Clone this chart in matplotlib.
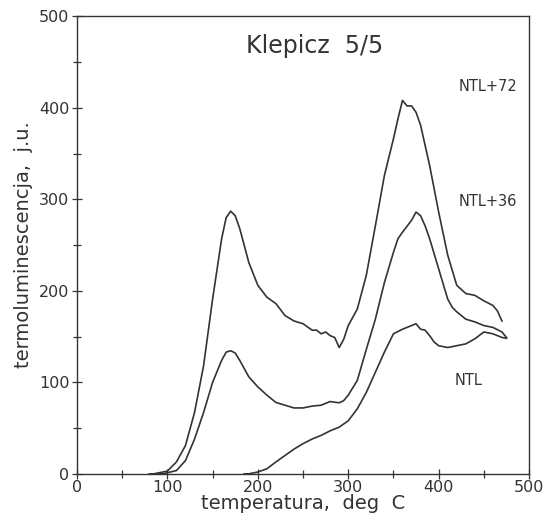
import numpy as np
import matplotlib.pyplot as plt

# temperatura (deg C) i odczyty TL dla trzech krzywych
t72 = [80, 85, 100, 110, 120, 130, 140, 150, 160, 165, 170, 175, 180, 190, 200, 210, 220,
       230, 240, 250, 260, 265, 270, 275, 280, 285, 290, 295, 300, 310, 320, 330, 340,
       350, 355, 360, 365, 370, 375, 380, 390, 400, 410, 420, 430, 440, 450, 460, 465, 470]
ntl72 = [0, 0, 3, 13, 31, 67, 118, 191, 257, 280, 287, 282, 268, 231, 206, 193, 186,
         173, 167, 164, 157, 157, 153, 155, 151, 149, 138, 147, 162, 180, 217, 271, 326,
         366, 388, 408, 402, 402, 395, 381, 337, 286, 239, 206, 197, 195, 189, 184, 178, 167]

t36 = [90, 95, 110, 120, 130, 140, 150, 160, 165, 170, 175, 180, 190, 200, 210, 220,
       230, 240, 250, 260, 270, 280, 290, 295, 300, 310, 320, 330, 340, 350, 355, 360,
       370, 375, 380, 385, 390, 400, 410, 415, 420, 430, 440, 450, 460, 470, 475]
ntl36 = [0, 0, 3.6, 14.5, 38, 67, 100, 124, 133, 134.5, 132, 124, 106, 95, 86, 78,
         75, 72, 72, 74, 75, 79, 77.6, 80, 86, 102, 136, 169, 209, 242, 257, 264,
         277, 286, 282, 271, 257, 224, 191, 182, 177, 169, 166, 162, 160, 155, 149]

t0 = [185, 190, 200, 210, 220, 230, 240, 250, 260, 270, 280, 290, 300, 310, 320, 330,
      340, 350, 360, 370, 375, 380, 385, 390, 395, 400, 410, 420, 430, 440, 450, 460, 470, 475]
ntl = [0, 0, 2, 5.5, 13, 20, 27, 33, 38, 42, 47, 51, 58, 71, 89, 111,
       133, 153, 158, 162, 164, 158, 157, 151, 144, 140, 138, 140, 142, 147.5, 155, 153, 149, 148]

ink = '#333333'
plt.rcParams['font.family'] = 'DejaVu Sans'

fig = plt.figure(figsize=(5.46, 5.23), dpi=100)
ax = fig.add_axes([0.141, 0.094, 0.828, 0.875])

ax.plot(t72, ntl72, color=ink, lw=1.2)
ax.plot(t36, ntl36, color=ink, lw=1.2)
ax.plot(t0, ntl, color=ink, lw=1.2)

ax.set_xlim(0, 500)
ax.set_ylim(0, 500)
ax.set_xticks([0, 100, 200, 300, 400, 500])
ax.set_yticks([0, 100, 200, 300, 400, 500])
ax.set_xticks(np.arange(50, 500, 100), minor=True)
ax.set_yticks(np.arange(50, 500, 100), minor=True)
ax.tick_params(direction='inout', length=7, width=0.9, colors=ink, labelsize=11.5)
ax.tick_params(which='minor', direction='inout', length=6, width=0.9, colors=ink)
ax.tick_params(axis='x', pad=1)
ax.tick_params(axis='y', pad=2)
for s in ax.spines.values():
    s.set_color(ink)
    s.set_linewidth(1.0)

ax.set_xlabel('temperatura,  deg  C', fontsize=14, color=ink, labelpad=-1)
ax.set_ylabel('termoluminescencja,  j.u.', fontsize=14, color=ink, labelpad=4)

ax.text(263, 468, 'Klepicz  5/5', fontsize=17, color=ink, ha='center', va='center')
ax.text(455, 423, 'NTL+72', fontsize=10.5, color=ink, ha='center', va='center')
ax.text(454, 298, 'NTL+36', fontsize=10.5, color=ink, ha='center', va='center')
ax.text(433, 102, 'NTL', fontsize=10.5, color=ink, ha='center', va='center')

fig.savefig('out.png', dpi=100)
